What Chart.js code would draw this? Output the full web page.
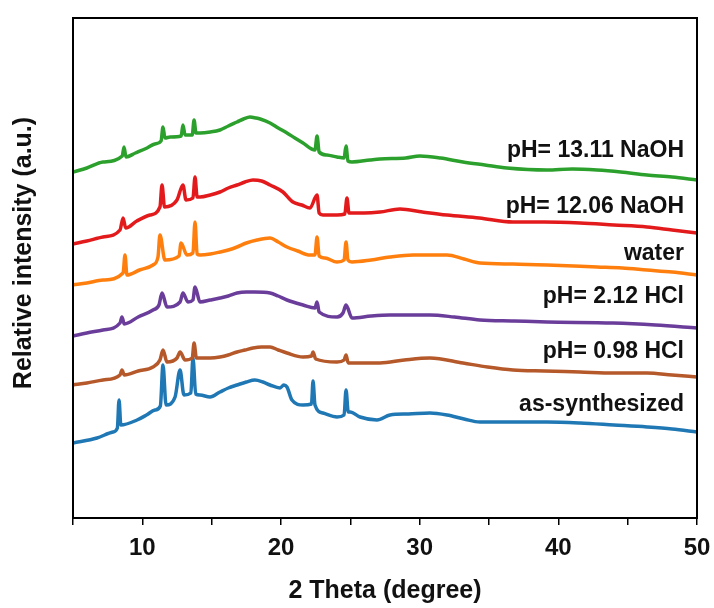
<!DOCTYPE html>
<html>
<head>
<meta charset="utf-8">
<script src="https://cdn.jsdelivr.net/npm/chart.js@4/dist/chart.umd.min.js"></script>
<style>
  html, body { margin: 0; padding: 0; background: #fff; }
  #wrap { width: 714px; height: 608px; }
</style>
</head>
<body>
<div id="wrap"><canvas id="xrdChart"></canvas></div>
<script>
// 2 theta positions (degree) and relative intensity
var greenX  = [5.0, 6.0, 7.16, 8.55, 8.68, 8.82, 9.5, 10.34, 10.9, 11.35, 11.49, 11.63, 12.0, 12.8, 12.93, 13.08, 13.6, 13.73, 13.87, 14.16, 14.9, 15.6, 16.2, 16.83, 17.3, 17.76, 18.2, 18.5, 19.21, 19.8, 20.43, 21.0, 21.59, 22.45, 22.6, 22.75, 23.3, 24.04, 24.55, 24.69, 24.83, 25.12, 26.42, 27.14, 29.0, 30.02, 31.5, 33.12, 34.7, 36.3, 39.18, 41.0, 42.79, 44.5, 46.39, 48.2, 50.0];
var greenY  = [346, 350, 356, 362, 371, 361, 365, 370, 374, 377, 391, 380, 381, 382, 393, 383, 383, 398, 385, 385, 386, 388, 392, 396, 399, 401, 400, 399, 395, 390, 385, 380, 375, 368, 382, 366, 363, 361, 360, 372, 357, 356, 358, 359, 360, 362, 360, 356, 353, 350, 348, 349, 348, 346, 343, 341, 338];

var redX    = [5.0, 6.0, 7.16, 8.39, 8.61, 8.8, 9.6, 10.55, 11.27, 11.42, 11.6, 12.5, 12.93, 13.15, 13.65, 13.8, 13.95, 14.16, 14.9, 15.6, 16.2, 16.83, 17.4, 17.98, 18.6, 19.21, 20.14, 20.86, 21.5, 22.09, 22.6, 22.75, 23.03, 24.04, 24.6, 24.76, 24.9, 26.0, 27.14, 28.58, 30.2, 31.97, 34.3, 36.73, 39.0, 41.56, 44.0, 46.39, 48.2, 50.0];
var redY    = [274, 277, 281, 288, 300, 290, 297, 303, 311, 333, 311, 318, 333, 318, 320, 341, 321, 321, 323, 326, 330, 333, 336, 338, 337, 333, 326, 316, 313, 310, 323, 305, 303, 303, 304, 320, 305, 305, 306, 309, 306, 303, 300, 296, 296, 295, 293, 291, 288, 285];

var orangeX = [5.0, 6.0, 7.16, 8.61, 8.75, 8.89, 9.8, 10.77, 11.13, 11.27, 11.63, 12.65, 12.79, 13.22, 13.65, 13.8, 13.95, 14.16, 14.9, 15.6, 16.2, 16.83, 17.5, 18.27, 19.21, 19.8, 20.43, 21.2, 22.09, 22.45, 22.6, 22.75, 23.17, 24.04, 24.55, 24.69, 24.83, 25.12, 26.5, 27.86, 29.52, 31.97, 33.2, 34.35, 36.7, 39.18, 42.79, 44.6, 46.39, 48.2, 50.0];
var orangeY = [233, 235, 238, 245, 263, 243, 248, 253, 261, 283, 258, 262, 275, 263, 265, 296, 264, 263, 264, 266, 268, 271, 275, 278, 280, 276, 271, 267, 263, 263, 281, 262, 260, 256, 258, 276, 258, 256, 258, 261, 263, 263, 259, 255, 254, 253, 251, 250, 248, 246, 243];

var purpleX = [5.0, 6.0, 7.16, 8.39, 8.53, 8.7, 9.7, 10.77, 11.2, 11.42, 11.78, 12.72, 12.93, 13.29, 13.65, 13.8, 14.16, 14.9, 15.6, 16.2, 16.83, 17.5, 18.12, 19.21, 19.8, 20.43, 21.59, 22.45, 22.6, 22.75, 24.04, 24.47, 24.69, 25.12, 26.5, 27.86, 30.74, 32.5, 34.35, 36.8, 39.18, 43.94, 47.0, 50.0];
var purpleY = [182, 185, 188, 195, 201, 194, 201, 208, 213, 225, 211, 216, 225, 216, 218, 231, 216, 218, 220, 222, 225, 226, 226, 225, 222, 218, 213, 210, 216, 206, 201, 205, 213, 200, 202, 203, 203, 201, 198, 197, 196, 195, 193, 190];

var brownX  = [5.0, 6.0, 7.16, 8.39, 8.53, 8.7, 9.7, 10.77, 11.27, 11.49, 11.78, 12.5, 12.72, 13.08, 13.6, 13.73, 13.9, 14.16, 14.9, 15.6, 16.2, 16.83, 17.4, 17.98, 18.6, 19.21, 19.8, 20.43, 21.59, 22.2, 22.31, 22.5, 24.04, 24.55, 24.69, 24.85, 25.12, 27.14, 28.9, 30.74, 33.12, 34.9, 36.73, 39.0, 41.56, 44.0, 46.39, 48.2, 50.0];
var brownY  = [133, 135, 138, 143, 148, 143, 147, 151, 158, 168, 156, 160, 166, 158, 160, 175, 160, 160, 160, 161, 163, 166, 168, 170, 171, 171, 168, 165, 161, 162, 166, 159, 156, 158, 163, 155, 155, 155, 158, 160, 155, 151, 148, 147, 146, 145, 145, 143, 141];

var blueX   = [5.0, 6.73, 7.88, 8.2, 8.32, 8.45, 9.62, 10.3, 10.91, 11.3, 11.49, 11.71, 12.36, 12.72, 13.0, 13.5, 13.65, 13.85, 14.16, 14.88, 15.6, 16.2, 16.83, 17.5, 18.12, 18.7, 19.21, 19.93, 20.2, 20.43, 20.79, 21.59, 22.2, 22.31, 22.45, 23.03, 24.04, 24.55, 24.69, 24.85, 24.98, 25.7, 26.92, 27.86, 29.2, 30.74, 31.97, 33.2, 34.35, 36.7, 39.18, 41.56, 44.0, 46.39, 48.2, 50.0];
var blueY   = [75, 80, 86, 90, 118, 93, 98, 103, 108, 112, 153, 113, 121, 148, 123, 125, 160, 124, 123, 121, 126, 130, 133, 136, 138, 136, 133, 130, 133, 131, 118, 113, 114, 137, 113, 105, 101, 103, 128, 106, 106, 101, 98, 103, 104, 105, 103, 99, 96, 96, 96, 95, 93, 91, 89, 86];

var seriesNames = ['pH= 13.11 NaOH', 'pH= 12.06 NaOH', 'water', 'pH= 2.12 HCl', 'pH= 0.98 HCl', 'as-synthesized'];
var seriesColors = ['#2ca02c', '#e31a1c', '#ff7f0e', '#6a3d9a', '#b5582a', '#1f77b4'];
var labelBaselines = [157, 213, 260, 303, 358, 411]; // px, where the text sits

function toPoints(xs, ys) {
    return xs.map(function (x, i) { return { x: x, y: ys[i] }; });
}

var allX = [greenX, redX, orangeX, purpleX, brownX, blueX];
var allY = [greenY, redY, orangeY, purpleY, brownY, blueY];

var datasets = allX.map(function (xs, i) {
    return {
        label: seriesNames[i],
        data: toPoints(xs, allY[i]),
        borderColor: seriesColors[i],
        borderWidth: 3.5,
        pointRadius: 0,
        cubicInterpolationMode: 'monotone',
        fill: false
    };
});

var fontFamily = '"Liberation Sans", Arial, sans-serif';

// box frame, y title and curve labels
var framePlugin = {
    id: 'framePlugin',
    afterDraw: function (chart) {
        var ctx = chart.ctx;
        var a = chart.chartArea;
        ctx.save();
        ctx.strokeStyle = '#000';
        ctx.lineWidth = 2;
        ctx.strokeRect(a.left, a.top, a.right - a.left, a.bottom - a.top);

        ctx.fillStyle = '#111';
        ctx.font = 'bold 23px ' + fontFamily;
        ctx.textAlign = 'right';
        ctx.textBaseline = 'alphabetic';
        seriesNames.forEach(function (name, i) {
            ctx.fillText(name, 684, labelBaselines[i]);
        });

        // y axis title
        ctx.translate(24, 253);
        ctx.rotate(-Math.PI / 2);
        ctx.textAlign = 'center';
        ctx.textBaseline = 'middle';
        ctx.font = 'bold 25px ' + fontFamily;
        ctx.fillText('Relative intensity (a.u.)', 0, 0);
        ctx.restore();
    }
};

new Chart(document.getElementById('xrdChart'), {
    type: 'line',
    data: { datasets: datasets },
    options: {
        responsive: true,
        maintainAspectRatio: false,
        animation: false,
        layout: { padding: { top: 18, right: 17, left: 0, bottom: 0 } },
        plugins: {
            legend: { display: false },
            tooltip: { enabled: false }
        },
        scales: {
            x: {
                type: 'linear',
                min: 5,
                max: 50,
                ticks: {
                    stepSize: 5,
                    color: '#111',
                    font: { family: fontFamily, size: 24, weight: 'bold' },
                    padding: 9,
                    maxRotation: 0,
                    autoSkip: false,
                    callback: function (v) { return v % 10 === 0 ? v : ''; }
                },
                grid: { drawOnChartArea: false, tickLength: 7, color: '#000', lineWidth: 1.5 },
                border: { display: true, color: '#000', width: 2 },
                title: { display: true, text: '2 Theta (degree)', color: '#111', font: { family: fontFamily, size: 25, weight: 'bold' }, padding: { top: 4, bottom: 2 } },
                afterFit: function (scale) {
                    scale.height = 90;
                    scale.paddingLeft = 0;
                    scale.paddingRight = 0;
                }
            },
            y: {
                min: 0,
                max: 500,
                ticks: { display: false },
                grid: { display: false },
                border: { display: true, color: '#000', width: 2 },
                afterFit: function (scale) { scale.width = 73; }
            }
        }
    },
    plugins: [framePlugin]
});
</script>
</body>
</html>
